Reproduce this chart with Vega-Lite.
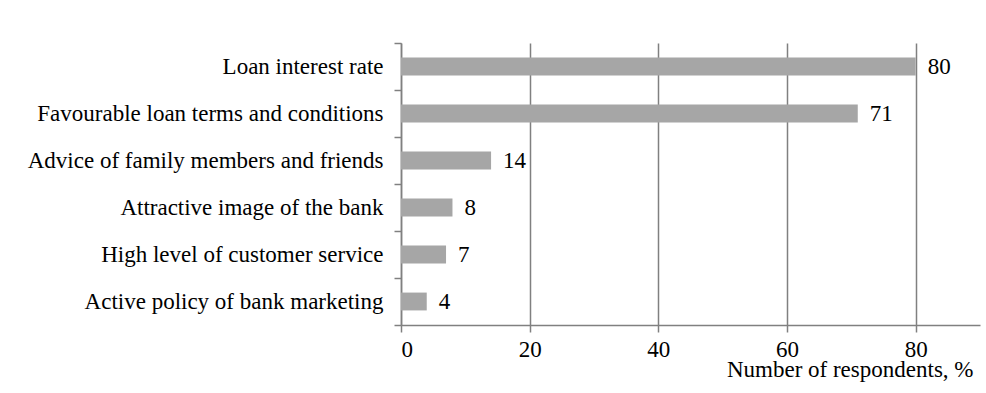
{
  "$schema": "https://vega.github.io/schema/vega-lite/v6.json",
  "autosize": "none",
  "width": 579,
  "height": 282,
  "padding": {"left": 401, "top": 43, "right": 6, "bottom": 68},
  "background": "white",
  "data": {"values": [
    {"factor": "Loan interest rate", "value": 80},
    {"factor": "Favourable loan terms and conditions", "value": 71},
    {"factor": "Advice of family members and friends", "value": 14},
    {"factor": "Attractive image of the bank", "value": 8},
    {"factor": "High level of customer service", "value": 7},
    {"factor": "Active policy of bank marketing", "value": 4}
  ]},
  "config": {
    "view": {"stroke": null},
    "font": "Liberation Serif",
    "axis": {"labelFont": "Liberation Serif", "titleFont": "Liberation Serif", "labelColor": "#000", "titleColor": "#000", "labelFontSize": 23, "titleFontSize": 23, "titleFontWeight": "normal", "domainColor": "#808080", "tickColor": "#808080", "gridColor": "#808080", "domainWidth": 1.5, "tickWidth": 1.5, "gridWidth": 1.5, "gridOpacity": 1}
  },
  "encoding": {
    "y": {"field": "factor", "type": "nominal", "sort": null,
      "scale": {"paddingInner": 0, "paddingOuter": 0},
      "axis": {"title": null, "tickBand": "extent", "tickSize": 7, "labelPadding": 11, "grid": false, "labelLimit": 400}},
    "x": {"field": "value", "type": "quantitative",
      "scale": {"domain": [0, 90], "nice": false},
      "axis": {"values": [0, 20, 40, 60, 80], "grid": true, "tickSize": 7, "labelPadding": 6, "title": "Number of respondents, %", "titleX": 572, "titleY": 51, "titleAlign": "right", "titleAnchor": null, "titleBaseline": "alphabetic"}}
  },
  "layer": [
    {"mark": {"type": "bar", "color": "#a6a6a6", "height": {"band": 0.38}}},
    {"mark": {"type": "text", "align": "left", "dx": 12, "fontSize": 23, "font": "Liberation Serif", "color": "#000"},
     "encoding": {"text": {"field": "value", "type": "quantitative"}}}
  ]
}
